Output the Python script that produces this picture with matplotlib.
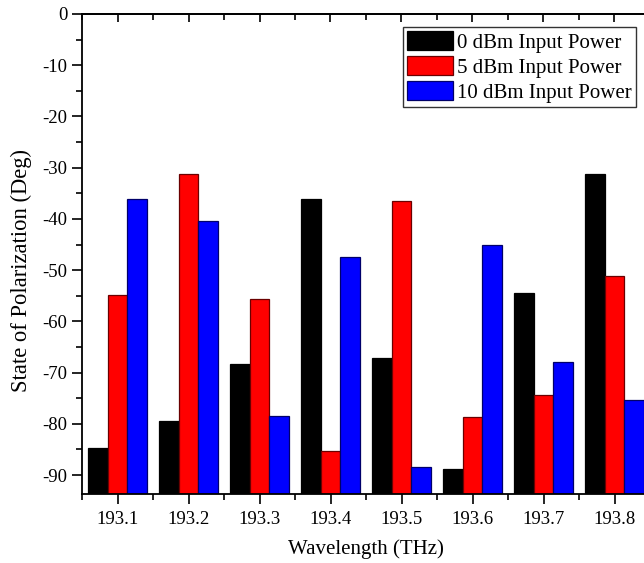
import numpy as np
import matplotlib
matplotlib.use("Agg")
import matplotlib.pyplot as plt
from matplotlib.ticker import MultipleLocator

plt.rcParams['font.family'] = ['Liberation Serif', 'DejaVu Serif']
plt.rcParams['axes.unicode_minus'] = False

# data
wavelengths = ["193.1", "193.2", "193.3", "193.4", "193.5", "193.6", "193.7", "193.8"]
sop_0dbm = [-84.7, -79.5, -68.4, -36.1, -67.1, -88.9, -54.5, -31.2]
sop_5dbm = [-54.8, -31.3, -55.6, -85.4, -36.6, -78.6, -74.4, -51.2]
sop_10dbm = [-36.1, -40.5, -78.5, -47.4, -88.4, -45.1, -68.0, -75.4]
series_labels = ["0 dBm Input Power", "5 dBm Input Power", "10 dBm Input Power"]

YMIN = -93.7
W = 0.275

fig = plt.figure(figsize=(6.44, 5.63), dpi=100)
ax = fig.add_axes([82/644, 69/563, 568/644, 480/563])

x = np.arange(len(wavelengths))
styles = [("#000000", "#000000"), ("#ff0000", "#6a0000"), ("#0000ff", "#00006a")]
for k, (vals, lab, (fc, ec)) in enumerate(zip([sop_0dbm, sop_5dbm, sop_10dbm], series_labels, styles)):
    v = np.array(vals)
    ax.bar(x + (k - 1)*W, v - YMIN, W, bottom=YMIN, color=fc, edgecolor=ec,
           linewidth=0.9, label=lab)

ax.set_xlim(-0.5, 7.5)
ax.set_ylim(YMIN, 0)
ax.set_xticks(x)
ax.set_xticklabels(wavelengths)
ax.xaxis.set_minor_locator(MultipleLocator(1, offset=0.5))
ax.yaxis.set_major_locator(MultipleLocator(10))
ax.yaxis.set_minor_locator(MultipleLocator(5))

ax.tick_params(axis='both', which='major', length=7, width=1.2, labelsize=13.5, direction='out')
ax.tick_params(axis='both', which='minor', length=4, width=1.2, direction='out')
ax.tick_params(axis='x', which='major', pad=5)
for sp in ax.spines.values():
    sp.set_linewidth(1.3)

# mirrored ticks on top, pointing inward
top = ax.secondary_xaxis('top')
top.set_xticks(x)
top.set_xticklabels([])
top.xaxis.set_minor_locator(MultipleLocator(1, offset=0.5))
top.tick_params(which='major', direction='in', length=6, width=1.2)
top.tick_params(which='minor', direction='in', length=4, width=1.2)
top.spines['top'].set_linewidth(1.3)

ax.set_xlabel("Wavelength (THz)", fontsize=15, labelpad=8)
ax.set_ylabel("State of Polarization (Deg)", fontsize=16.3)
ax.yaxis.set_label_coords(-0.088, 0.465)

leg = ax.legend(loc='upper left', fontsize=15, frameon=True, fancybox=False,
                edgecolor='black', handlelength=2.2, handleheight=1.05, handletextpad=0.2,
                borderpad=0.2, labelspacing=0.15, borderaxespad=0)
leg.set_bbox_to_anchor((403/644, 1 - 27/563), transform=fig.transFigure)
leg.get_frame().set_linewidth(1.0)

fig.savefig("out.png", dpi=100)
